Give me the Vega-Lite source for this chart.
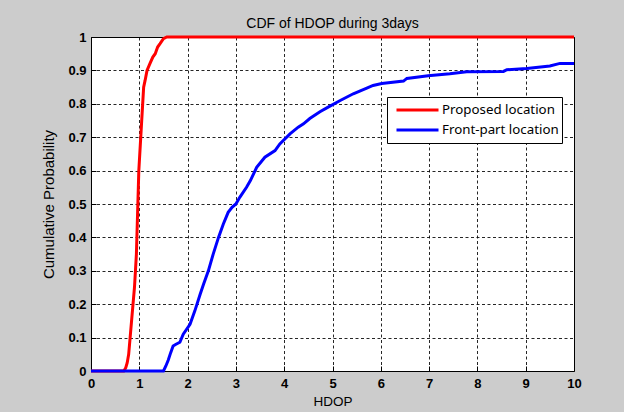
{
  "$schema": "https://vega.github.io/schema/vega-lite/v6.json",
  "autosize": {"type": "none"},
  "width": 483,
  "height": 334,
  "padding": {"left": 91, "top": 37, "right": 50, "bottom": 41},
  "background": "#cccccc",
  "config": {
    "font": "Liberation Sans",
    "view": {"fill": "white", "stroke": "black", "strokeWidth": 1},
    "axis": {
      "domain": false,
      "grid": true,
      "gridColor": "#000000",
      "gridOpacity": 0.85,
      "gridDash": [3, 2.5],
      "gridWidth": 1,
      "ticks": true,
      "tickColor": "#000000",
      "tickSize": -5,
      "tickWidth": 1,
      "labelColor": "#000000",
      "labelFont": "Liberation Sans",
      "labelFontSize": 13,
      "labelFontWeight": "bold",
      "titleColor": "#000000",
      "titleFont": "Liberation Sans",
      "titleFontWeight": "normal"
    }
  },
  "title": {
    "text": "CDF of HDOP during 3days",
    "font": "Liberation Sans",
    "fontSize": 14,
    "fontWeight": "normal",
    "color": "#000000",
    "frame": "group",
    "anchor": "middle",
    "baseline": "alphabetic",
    "offset": 12,
    "dy": 23
  },
  "data": {
    "values": [
      {"series": "Proposed location", "x": 0, "y": 0},
      {"series": "Proposed location", "x": 0.68, "y": 0},
      {"series": "Proposed location", "x": 0.72, "y": 0.01},
      {"series": "Proposed location", "x": 0.75, "y": 0.025},
      {"series": "Proposed location", "x": 0.78, "y": 0.05},
      {"series": "Proposed location", "x": 0.81, "y": 0.1},
      {"series": "Proposed location", "x": 0.84, "y": 0.15},
      {"series": "Proposed location", "x": 0.87, "y": 0.2},
      {"series": "Proposed location", "x": 0.9, "y": 0.25},
      {"series": "Proposed location", "x": 0.92, "y": 0.3},
      {"series": "Proposed location", "x": 0.94, "y": 0.35},
      {"series": "Proposed location", "x": 0.95, "y": 0.4},
      {"series": "Proposed location", "x": 0.96, "y": 0.45},
      {"series": "Proposed location", "x": 0.97, "y": 0.5},
      {"series": "Proposed location", "x": 0.98, "y": 0.55},
      {"series": "Proposed location", "x": 0.99, "y": 0.6},
      {"series": "Proposed location", "x": 1.01, "y": 0.65},
      {"series": "Proposed location", "x": 1.03, "y": 0.7},
      {"series": "Proposed location", "x": 1.05, "y": 0.75},
      {"series": "Proposed location", "x": 1.07, "y": 0.8},
      {"series": "Proposed location", "x": 1.09, "y": 0.85},
      {"series": "Proposed location", "x": 1.12, "y": 0.87},
      {"series": "Proposed location", "x": 1.16, "y": 0.9},
      {"series": "Proposed location", "x": 1.22, "y": 0.92},
      {"series": "Proposed location", "x": 1.28, "y": 0.94},
      {"series": "Proposed location", "x": 1.33, "y": 0.95},
      {"series": "Proposed location", "x": 1.38, "y": 0.97},
      {"series": "Proposed location", "x": 1.43, "y": 0.98},
      {"series": "Proposed location", "x": 1.5, "y": 0.995},
      {"series": "Proposed location", "x": 1.57, "y": 1},
      {"series": "Proposed location", "x": 10, "y": 1},
      {"series": "Front-part location", "x": 0, "y": 0},
      {"series": "Front-part location", "x": 1.5, "y": 0},
      {"series": "Front-part location", "x": 1.55, "y": 0.015},
      {"series": "Front-part location", "x": 1.6, "y": 0.033},
      {"series": "Front-part location", "x": 1.65, "y": 0.055},
      {"series": "Front-part location", "x": 1.7, "y": 0.075},
      {"series": "Front-part location", "x": 1.76, "y": 0.08},
      {"series": "Front-part location", "x": 1.84, "y": 0.086},
      {"series": "Front-part location", "x": 1.91, "y": 0.11},
      {"series": "Front-part location", "x": 2.05, "y": 0.14},
      {"series": "Front-part location", "x": 2.15, "y": 0.18},
      {"series": "Front-part location", "x": 2.26, "y": 0.23},
      {"series": "Front-part location", "x": 2.33, "y": 0.26},
      {"series": "Front-part location", "x": 2.43, "y": 0.3},
      {"series": "Front-part location", "x": 2.53, "y": 0.35},
      {"series": "Front-part location", "x": 2.64, "y": 0.4},
      {"series": "Front-part location", "x": 2.74, "y": 0.44},
      {"series": "Front-part location", "x": 2.84, "y": 0.475},
      {"series": "Front-part location", "x": 2.92, "y": 0.49},
      {"series": "Front-part location", "x": 3.0, "y": 0.5},
      {"series": "Front-part location", "x": 3.08, "y": 0.52},
      {"series": "Front-part location", "x": 3.22, "y": 0.55},
      {"series": "Front-part location", "x": 3.3, "y": 0.57},
      {"series": "Front-part location", "x": 3.43, "y": 0.61},
      {"series": "Front-part location", "x": 3.6, "y": 0.64},
      {"series": "Front-part location", "x": 3.81, "y": 0.66},
      {"series": "Front-part location", "x": 3.91, "y": 0.68},
      {"series": "Front-part location", "x": 4.12, "y": 0.71},
      {"series": "Front-part location", "x": 4.29, "y": 0.73},
      {"series": "Front-part location", "x": 4.4, "y": 0.74},
      {"series": "Front-part location", "x": 4.53, "y": 0.756},
      {"series": "Front-part location", "x": 4.74, "y": 0.776},
      {"series": "Front-part location", "x": 4.91, "y": 0.79},
      {"series": "Front-part location", "x": 5.16, "y": 0.81},
      {"series": "Front-part location", "x": 5.43, "y": 0.83},
      {"series": "Front-part location", "x": 5.71, "y": 0.847},
      {"series": "Front-part location", "x": 5.84, "y": 0.855},
      {"series": "Front-part location", "x": 6.02, "y": 0.861},
      {"series": "Front-part location", "x": 6.47, "y": 0.868},
      {"series": "Front-part location", "x": 6.54, "y": 0.876},
      {"series": "Front-part location", "x": 6.98, "y": 0.884},
      {"series": "Front-part location", "x": 7.43, "y": 0.89},
      {"series": "Front-part location", "x": 7.78, "y": 0.896},
      {"series": "Front-part location", "x": 8.54, "y": 0.897},
      {"series": "Front-part location", "x": 8.61, "y": 0.902},
      {"series": "Front-part location", "x": 9.02, "y": 0.906},
      {"series": "Front-part location", "x": 9.5, "y": 0.913},
      {"series": "Front-part location", "x": 9.71, "y": 0.921},
      {"series": "Front-part location", "x": 10, "y": 0.921}
    ]
  },
  "encoding": {
    "x": {
      "field": "x",
      "type": "quantitative",
      "scale": {"domain": [0, 10], "nice": false, "zero": false},
      "axis": {
        "title": "HDOP",
        "titleFontSize": 13.5,
        "titlePadding": 4,
        "values": [0, 1, 2, 3, 4, 5, 6, 7, 8, 9, 10],
        "format": "d",
        "labelPadding": 11,
        "labelFlush": false
      }
    },
    "y": {
      "field": "y",
      "type": "quantitative",
      "scale": {"domain": [0, 1], "nice": false, "zero": false},
      "axis": {
        "title": "Cumulative Probability",
        "titleFontSize": 15,
        "titlePadding": 11,
        "values": [0, 0.1, 0.2, 0.3, 0.4, 0.5, 0.6, 0.7, 0.8, 0.9, 1],
        "format": "~g",
        "labelPadding": 10,
        "labelFlush": false
      }
    },
    "color": {
      "field": "series",
      "type": "nominal",
      "scale": {
        "domain": ["Proposed location", "Front-part location"],
        "range": ["#ff0000", "#0000ff"]
      },
      "legend": {
        "title": null,
        "orient": "none",
        "legendX": 296,
        "legendY": 60,
        "fillColor": "#ffffff",
        "strokeColor": "#000000",
        "padding": 3,
        "clipHeight": 20,
        "rowPadding": 0,
        "symbolType": "stroke",
        "symbolStrokeWidth": 3,
        "symbolSize": 1764,
        "symbolOffset": 5,
        "labelFont": "Noto Sans",
        "labelFontSize": 13.3,
        "labelColor": "#000000",
        "labelOffset": 2
      }
    }
  },
  "layer": [
    {
      "transform": [{"filter": "datum.series === 'Proposed location'"}],
      "mark": {"type": "line", "strokeWidth": 3, "clip": false}
    },
    {
      "transform": [{"filter": "datum.series === 'Front-part location'"}],
      "mark": {"type": "line", "strokeWidth": 3, "clip": false}
    }
  ]
}
